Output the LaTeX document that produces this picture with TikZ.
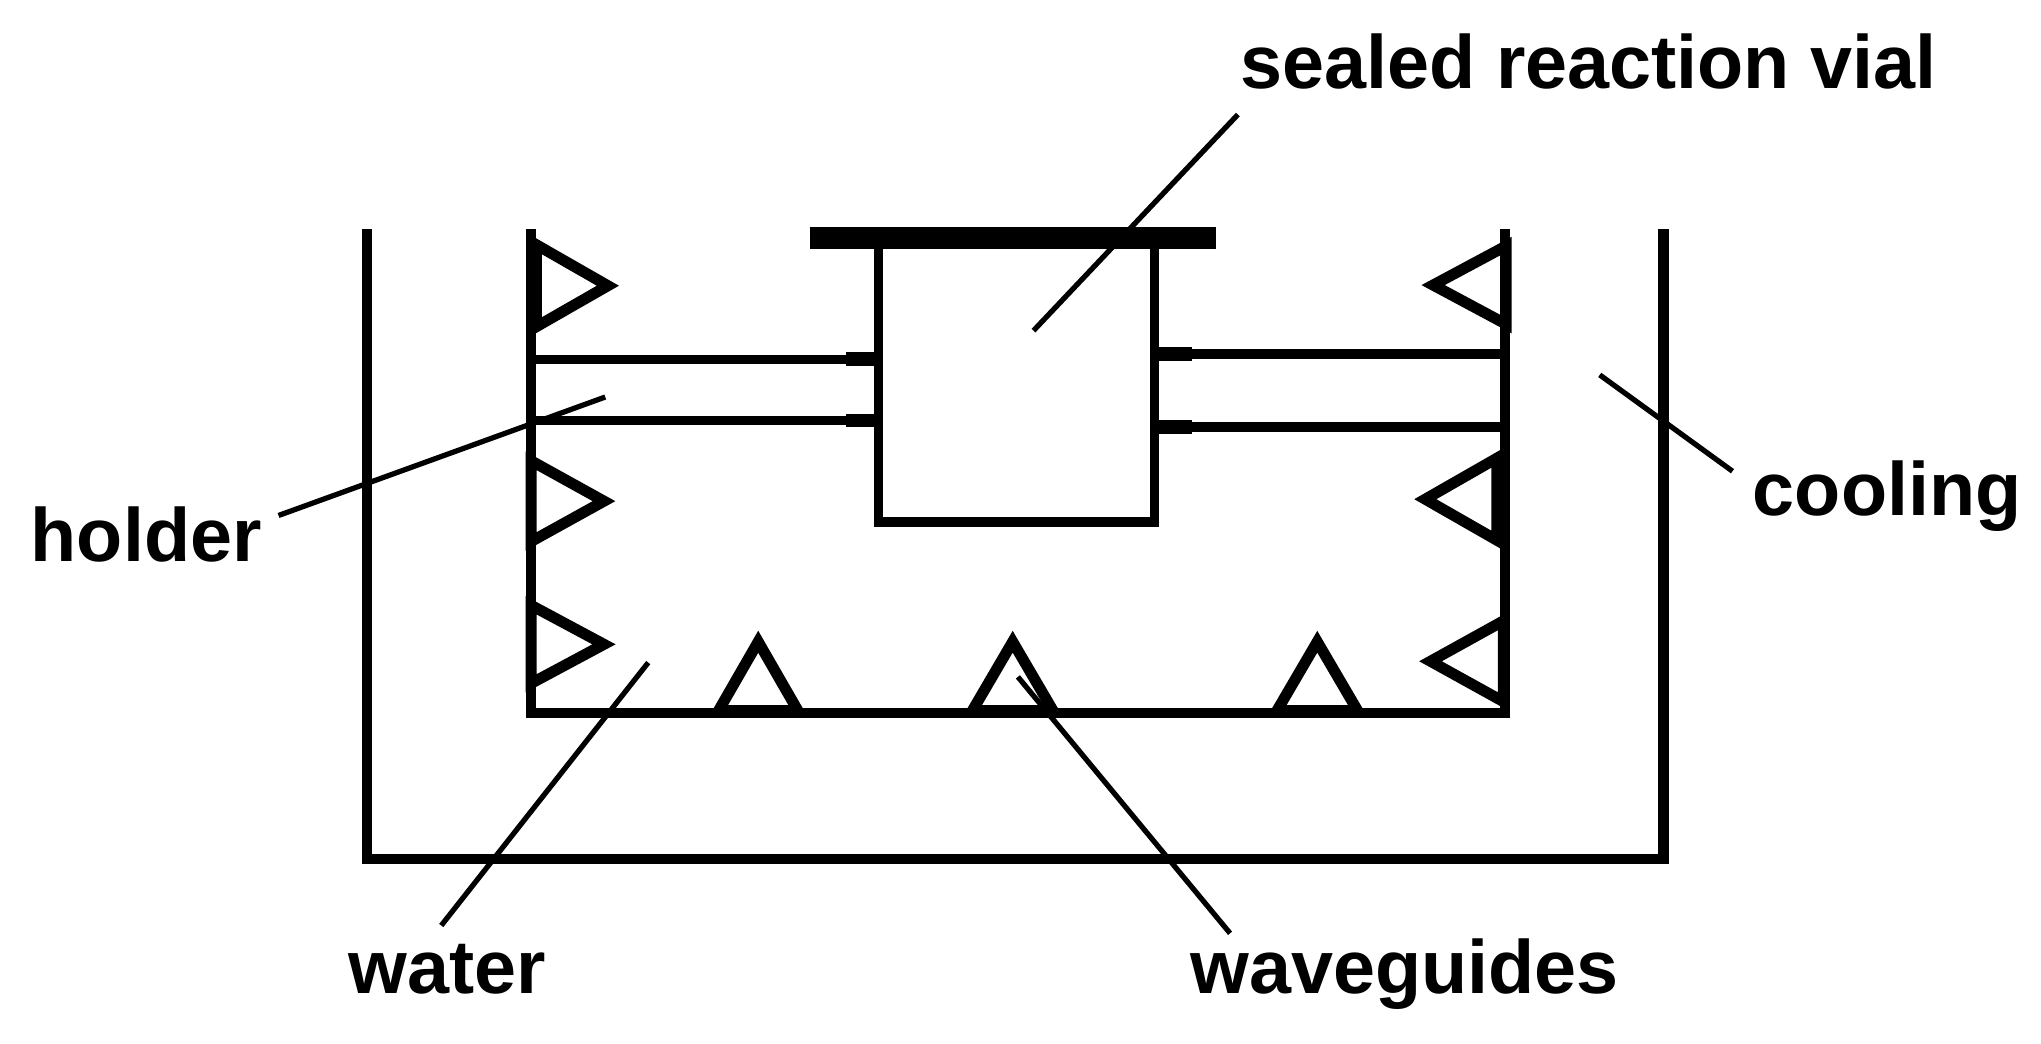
\documentclass[tikz,border=0pt]{standalone}
\usepackage{fontspec}
\setmainfont{Liberation Sans}
\usetikzlibrary{positioning}

\begin{document}
\begin{tikzpicture}[
    x=0.01cm, y=-0.01cm,
    wall/.style={draw, line width=2.2pt, line cap=butt},
    thinwall/.style={draw, line width=2pt, line cap=butt},
    guide/.style={draw, line width=2.4pt, line join=miter},
    leader/.style={draw, line width=1.15pt},
    label/.style={font=\fontsize{16.5}{19}\selectfont\bfseries, inner sep=0pt, anchor=base west}
]
\useasboundingbox (0,0) rectangle (1568,802);

% Labels
\node[label] (vial) at (952,68) {sealed reaction vial};
\node[label] (holder) at (23,431) {holder};
\node[label] (cooling) at (1346,396) {cooling};
\node[label] (water) at (267,763) {water};
\node[label] (waveguides) at (914,763) {waveguides};

% Outer bath
\draw[wall] (282,176) -- (282,660) -- (1278,660) -- (1278,176);

% Inner vessel
\draw[wall] (408,176) -- (408,548) -- (1156,548) -- (1156,176);

% Vial and lid
\draw[thinwall] (675,183) -- (675,401) -- (887,401) -- (887,183);
\draw[line width=4.9pt] (622,183) -- (934,183);

% Holder arms
\draw[thinwall] (408,276) -- (675,276);
\draw[thinwall] (408,323) -- (675,323);
\draw[thinwall] (887,272) -- (1156,272);
\draw[thinwall] (887,328) -- (1156,328);
\draw[line width=3pt] (650,276) -- (675,276);
\draw[line width=3pt] (650,323) -- (675,323);
\draw[line width=3pt] (887,272) -- (916,272);
\draw[line width=3pt] (887,328) -- (916,328);

% Waveguides on the left wall
\foreach \ya/\yb/\xt/\xb in {188/251/467/412, 354/416/464/408, 465/525/464/408}
    \draw[guide] (\xb,\ya) -- (\xt,{(\ya+\yb)/2}) -- (\xb,\yb) -- cycle;

% Waveguides on the right wall
\foreach \ya/\yb/\xt/\xb in {189/249/1101/1157, 352/415/1095/1150, 477/539/1099/1155}
    \draw[guide] (\xb,\ya) -- (\xt,{(\ya+\yb)/2}) -- (\xb,\yb) -- cycle;

% Waveguides on the floor
\foreach \xa/\xb in {552/613, 747/809, 981/1043}
    \draw[guide] (\xa,546) -- ({(\xa+\xb)/2},493) -- (\xb,546) -- cycle;

% Leader lines
\coordinate (vialstart) at (951,88);
\coordinate (vialend) at (794,254);
\coordinate (holderstart) at (214,396);
\coordinate (holderend) at (465,305);
\coordinate (coolingstart) at (1331,362);
\coordinate (coolingend) at (1229,288);
\coordinate (waterstart) at (339,711);
\coordinate (waterend) at (498,509);
\coordinate (guidestart) at (945,717);
\coordinate (guideend) at (782,520);
\draw[leader] (vialstart) -- (vialend);
\draw[leader] (holderstart) -- (holderend);
\draw[leader] (coolingstart) -- (coolingend);
\draw[leader] (waterstart) -- (waterend);
\draw[leader] (guidestart) -- (guideend);

\end{tikzpicture}
\end{document}
